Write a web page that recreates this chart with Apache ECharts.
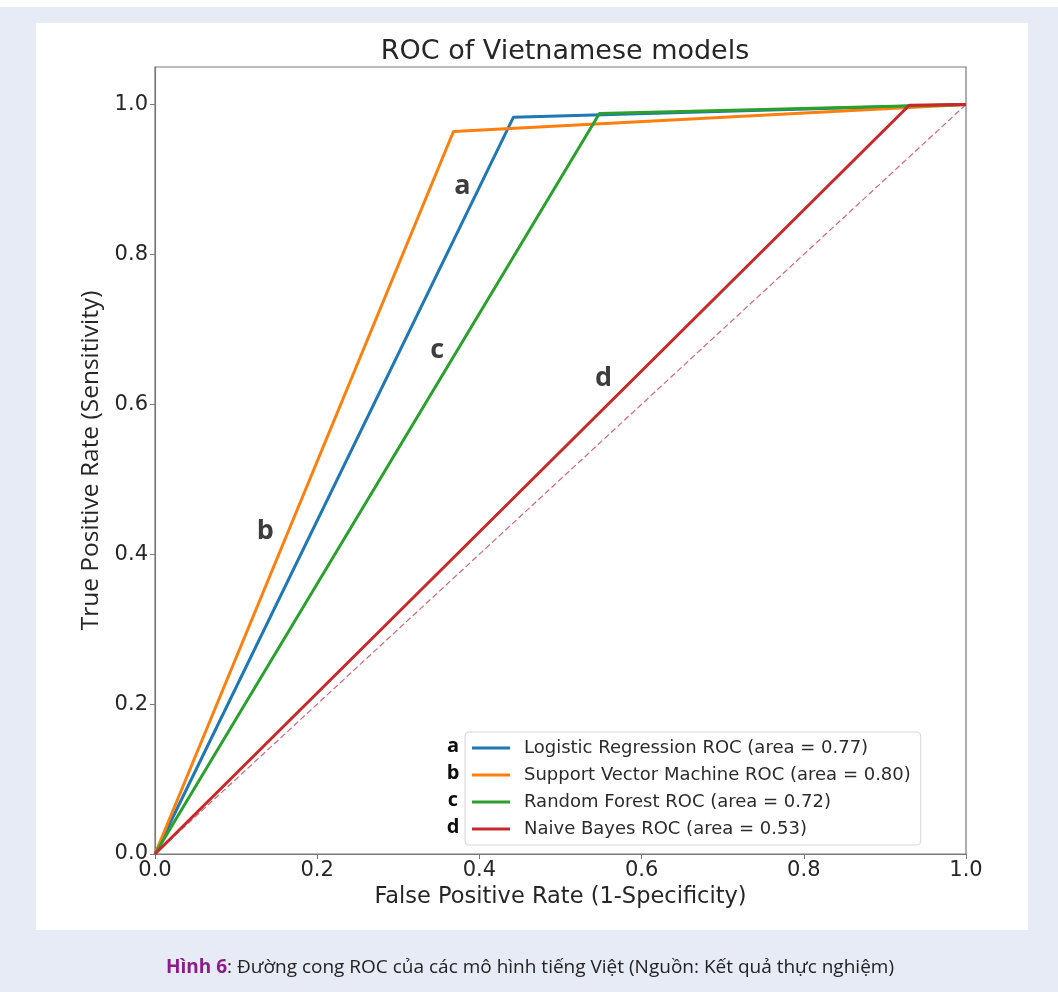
<!DOCTYPE html>
<html>
<head>
<meta charset="utf-8">
<script src="https://cdn.jsdelivr.net/npm/echarts@6/dist/echarts.min.js"></script>
<style>html,body{margin:0;padding:0;background:#fff;}#chart{width:1058px;height:992px;}</style>
</head>
<body>
<div id="chart"></div>
<script>
// ---- data ----
const seriesNames = [
  'Logistic Regression ROC (area = 0.77)',
  'Support Vector Machine ROC (area = 0.80)',
  'Random Forest ROC (area = 0.72)',
  'Naive Bayes ROC (area = 0.53)'
];
const seriesLetters = ['a', 'b', 'c', 'd'];
const lrPoints  = [[0, 0], [0.442, 0.983], [1, 1]];
const svmPoints = [[0, 0], [0.368, 0.964], [1, 1]];
const rfPoints  = [[0, 0], [0.548, 0.988], [1, 1]];
const nbPoints  = [[0, 0], [0.930, 0.999], [1, 1]];
const chancePoints = [[0, 0], [1, 1]];
const letterPoints = [
  ['a', 0.379, 0.891],
  ['b', 0.136, 0.431],
  ['c', 0.348, 0.672],
  ['d', 0.553, 0.635]
];
const xTicks = [0, 0.2, 0.4, 0.6, 0.8, 1.0];
const yTicks = [0, 0.2, 0.4, 0.6, 0.8, 1.0];
const titleText = 'ROC of Vietnamese models';
const xName = 'False Positive Rate (1-Specificity)';
const yName = 'True Positive Rate (Sensitivity)';
const captionBold = 'Hình 6';
const captionRest = ': Đường cong ROC của các mô hình tiếng Việt (Nguồn: Kết quả thực nghiệm)';

const colors = ['#1f77b4', '#ff7f0e', '#2ca02c', '#c9282a'];
const allPoints = [lrPoints, svmPoints, rfPoints, nbPoints];
const FONT = 'DejaVu Sans';

const isTick = (arr, v) => arr.some(t => Math.abs(t - v) < 1e-6);

const chart = echarts.init(document.getElementById('chart'), null, {renderer: 'canvas'});

const series = allPoints.map((pts, i) => ({
  name: seriesNames[i],
  type: 'line',
  data: pts,
  symbol: 'none',
  lineStyle: {color: colors[i], width: 3},
  itemStyle: {color: colors[i]},
  z: 3 + i,
  animation: false
}));
series.push({
  name: 'chance',
  type: 'line',
  data: chancePoints,
  symbol: 'none',
  lineStyle: {color: '#d06a78', width: 1.2, type: [6, 3]},
  z: 2,
  animation: false
});
series.push({
  name: 'letters',
  type: 'scatter',
  data: letterPoints.map(p => ({name: p[0], value: [p[1], p[2]]})),
  symbolSize: 0,
  label: {
    show: true,
    position: 'inside',
    formatter: p => p.name,
    fontFamily: 'Open Sans',
    fontWeight: 'bold',
    fontSize: 27,
    color: '#0d0d0d'
  },
  z: 10,
  animation: false
});

const legendRowY = [746, 773, 800, 827];
const graphics = [
  {type: 'rect', shape: {x: 0, y: 0, width: 1058, height: 7}, style: {fill: '#ffffff'}, silent: true, z: -10},
  {type: 'rect', shape: {x: 36, y: 23, width: 992, height: 907}, style: {fill: '#ffffff'}, silent: true, z: -10},
  {
    type: 'text', x: 530, y: 968,
    style: {
      text: '{b|' + captionBold + '}{r|' + captionRest + '}',
      textAlign: 'center', textVerticalAlign: 'middle',
      rich: {
        b: {fontFamily: 'Open Sans', fontWeight: 'bold', fontSize: 19, fill: '#8b1c8c'},
        r: {fontFamily: 'Open Sans', fontSize: 19, fill: '#222'}
      }
    }
  }
];
seriesLetters.forEach((l, i) => {
  graphics.push({
    type: 'text', x: 453, y: legendRowY[i], z: 100,
    style: {text: l, textAlign: 'center', textVerticalAlign: 'middle',
      fontFamily: 'Open Sans', fontWeight: 'bold', fontSize: 20, fill: '#0d0d0d'}
  });
});

const option = {
  backgroundColor: '#e6ebf5',
  animation: false,
  title: {
    text: titleText,
    left: 560, top: 33, textAlign: 'center',
    textStyle: {fontFamily: FONT, fontSize: 27, fontWeight: 'normal', color: '#262626'}
  },
  grid: {
    left: 155, top: 67, right: 92, bottom: 138,
    show: true, borderColor: '#7a7a7a', borderWidth: 1.2, backgroundColor: 'transparent'
  },
  legend: {
    data: seriesNames,
    orient: 'vertical',
    left: 465, top: 732,
    padding: [6, 10, 6, 7],
    itemWidth: 38, itemHeight: 3, itemGap: 7,
    icon: 'rect',
    backgroundColor: 'rgba(255,255,255,0.85)',
    borderColor: '#d6d6d6', borderWidth: 1, borderRadius: 4,
    textStyle: {fontFamily: FONT, fontSize: 18, color: '#2b2b2b', lineHeight: 20, padding: [0, 0, 0, 9]},
    selectedMode: false
  },
  xAxis: {
    type: 'value', min: 0, max: 1, interval: 0.2,
    name: xName, nameLocation: 'middle', nameGap: 31,
    nameTextStyle: {fontFamily: FONT, fontSize: 22.5, color: '#262626'},
    axisLine: {show: true, lineStyle: {color: '#7a7a7a', width: 1.2}},
    axisTick: {show: true, length: 5, lineStyle: {color: '#7a7a7a'}},
    axisLabel: {
      fontFamily: FONT, fontSize: 21, color: '#262626', margin: 6,
      formatter: v => isTick(xTicks, v) ? v.toFixed(1) : ''
    },
    splitLine: {show: false}
  },
  yAxis: {
    type: 'value', min: 0, max: 1.05, interval: 0.2,
    name: yName, nameLocation: 'middle', nameGap: 48,
    nameTextStyle: {fontFamily: 'Open Sans', fontSize: 24.5, color: '#262626'},
    axisLine: {show: true, lineStyle: {color: '#7a7a7a', width: 1.2}},
    axisTick: {show: true, length: 5, lineStyle: {color: '#7a7a7a'}},
    axisLabel: {
      fontFamily: FONT, fontSize: 21, color: '#262626', margin: 7,
      showMaxLabel: false,
      formatter: v => isTick(yTicks, v) ? v.toFixed(1) : ''
    },
    splitLine: {show: false}
  },
  graphic: graphics,
  series: series
};
chart.setOption(option);
</script>
</body>
</html>
